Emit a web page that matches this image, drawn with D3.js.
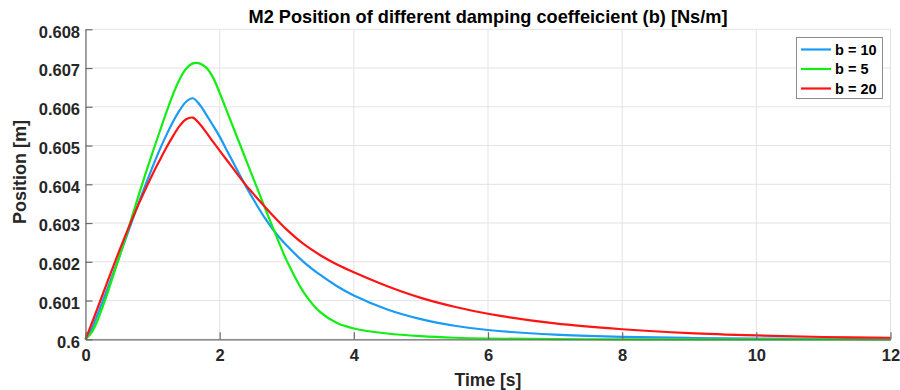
<!DOCTYPE html>
<html>
<head>
<meta charset="utf-8">
<script src="https://cdn.jsdelivr.net/npm/d3@7"></script>
<style>
html,body{margin:0;padding:0;background:#fff;}
svg{display:block;font-family:"Liberation Sans",Arial,Helvetica,sans-serif;}
</style>
</head>
<body>
<svg id="chart" width="900" height="390"></svg>
<script>
// ---- data (time in s, position in m) ----
const titleText = "M2 Position of different damping coeffeicient (b) [Ns/m]";
const xLabel = "Time [s]";
const yLabel = "Position [m]";
const xTicks = [0, 2, 4, 6, 8, 10, 12];
const yTicks = [0.6, 0.601, 0.602, 0.603, 0.604, 0.605, 0.606, 0.607, 0.608];
const yTickLabels = ["0.6", "0.601", "0.602", "0.603", "0.604", "0.605", "0.606", "0.607", "0.608"];
const seriesNames = ["b = 10", "b = 5", "b = 20"];
const seriesColors = ["#1a9bf5", "#12ee12", "#ff1414"];

const time = [0,0.1,0.2,0.3,0.4,0.5,0.6,0.7,0.8,0.9,1.0,1.1,1.2,1.3,1.4,1.5,1.6,1.7,1.8,1.9,
  2.0,2.1,2.2,2.3,2.4,2.5,2.6,2.7,2.8,2.9,3.0,3.25,3.5,3.75,4.0,4.5,5,5.5,6,7,8,9,10,11,12];

const posB10 = [0.6,0.6003,0.60073,0.60118,0.60164,0.60211,0.6026,0.60308,0.60355,0.60401,
  0.60445,0.60487,0.60525,0.6056,0.6059,0.60613,0.60622,0.60606,0.6058,0.60552,
  0.60523,0.6049,0.60457,0.60424,0.60392,0.60362,0.60333,0.60306,0.60282,0.60261,
  0.60242,0.602,0.60166,0.60137,0.60113,0.60077,0.60052,0.60035,0.60024,0.60012,0.600065,0.600035,0.60002,0.60001,0.600006];

const posB5 = [0.6,0.6002,0.60058,0.60105,0.60157,0.6021,0.60264,0.6032,0.60376,0.6043,
  0.60482,0.60533,0.60583,0.6063,0.6067,0.60698,0.60712,0.60712,0.60701,0.60676,
  0.60636,0.60592,0.60548,0.60504,0.6046,0.60416,0.60372,0.60328,0.60285,0.60243,
  0.60203,0.60122,0.6007,0.60042,0.60028,0.60015,0.60008,0.60004,0.60002,0.600005,0.6,0.6,0.6,0.6,0.6];

const posB20 = [0.6,0.60044,0.6009,0.60136,0.60182,0.60227,0.6027,0.60312,0.60352,0.6039,
  0.60426,0.6046,0.60493,0.60523,0.6055,0.60568,0.60572,0.60556,0.60534,0.6051,
  0.60487,0.60464,0.60441,0.60418,0.60396,0.60376,0.60356,0.60337,0.60318,0.603,
  0.60283,0.60246,0.60217,0.60193,0.60173,0.60137,0.60107,0.60084,0.60066,0.60041,0.60026,0.60016,0.6001,0.60006,0.60004];

const seriesValues = [posB10, posB5, posB20];

// ---- layout ----
const svg = d3.select("#chart");
const L = 85.5, R = 890.5, T = 29.3, B = 339.3;
const x = d3.scaleLinear().domain([0, 12]).range([L, R]);
const y = d3.scaleLinear().domain([0.6, 0.608]).range([B, T]);
const textColor = "#262626";

// grid
const grid = svg.append("g");
grid.selectAll("line.gx").data(xTicks).enter().append("line")
  .attr("x1", d => x(d)).attr("x2", d => x(d)).attr("y1", T).attr("y2", B)
  .attr("stroke", "#e3e3e3").attr("stroke-width", 1);
grid.selectAll("line.gy").data(yTicks).enter().append("line")
  .attr("x1", L).attr("x2", R).attr("y1", d => y(d)).attr("y2", d => y(d))
  .attr("stroke", "#e3e3e3").attr("stroke-width", 1);

// lines
const line = d3.line().curve(d3.curveCatmullRom.alpha(0.5));
seriesValues.forEach((vals, i) => {
  svg.append("path")
    .attr("d", line(time.map((t, k) => [x(t), y(vals[k])])))
    .attr("fill", "none")
    .attr("stroke", seriesColors[i])
    .attr("stroke-width", 2.2)
    .attr("stroke-linejoin", "round");
});

// axes
const xAxis = d3.axisBottom(x).tickValues(xTicks).tickSizeInner(-7).tickSizeOuter(0).tickPadding(9.5);
const yAxis = d3.axisLeft(y).tickValues(yTicks).tickSizeInner(-7).tickSizeOuter(0).tickPadding(5.5)
  .tickFormat((d, i) => yTickLabels[i]);
const gx = svg.append("g").attr("transform", `translate(0,${B})`).call(xAxis);
const gy = svg.append("g").attr("transform", `translate(${L},0)`).call(yAxis);
[gx, gy].forEach(g => {
  g.select(".domain").attr("stroke", "#6b6b6b").attr("stroke-width", 1.2);
  g.selectAll(".tick line").attr("stroke", "#6b6b6b").attr("stroke-width", 1.2);
  g.selectAll(".tick text").attr("fill", textColor)
    .style("font-family", '"Liberation Sans", Arial, sans-serif')
    .style("font-weight", "bold").style("font-size", "16.5px");
});
gx.selectAll(".tick text").attr("dy", "0.71em");
gy.selectAll(".tick text").attr("dy", "0.48em");

// title (sized to the reference width)
const title = svg.append("text").attr("x", (L + R) / 2).attr("y", 23)
  .attr("text-anchor", "middle").attr("fill", "#000")
  .style("font-weight", "bold").style("font-size", "16px").text(titleText);
const tw = title.node().getComputedTextLength();
if (tw > 0) title.style("font-size", (16 * 479 / tw).toFixed(2) + "px");

// axis labels
svg.append("text").attr("x", (L + R) / 2).attr("y", 386)
  .attr("text-anchor", "middle").attr("fill", textColor)
  .style("font-weight", "bold").style("font-size", "17.5px").text(xLabel);
svg.append("text").attr("transform", `translate(26,172) rotate(-90)`)
  .attr("text-anchor", "middle").attr("fill", textColor)
  .style("font-weight", "bold").style("font-size", "18px").text(yLabel);

// legend
const lg = svg.append("g");
lg.append("rect").attr("x", 796.5).attr("y", 37.5).attr("width", 86).attr("height", 61)
  .attr("fill", "#fff").attr("stroke", "#8c8c8c").attr("stroke-width", 1);
const rowsY = [49.5, 69, 88.5];
seriesNames.forEach((name, i) => {
  lg.append("line").attr("x1", 801).attr("x2", 831).attr("y1", rowsY[i]).attr("y2", rowsY[i])
    .attr("stroke", seriesColors[i]).attr("stroke-width", 2.2);
  lg.append("text").attr("x", 835).attr("y", rowsY[i]).attr("dy", "0.36em")
    .attr("fill", "#000").style("font-weight", "bold").style("font-size", "14.5px").text(name);
});
</script>
</body>
</html>
